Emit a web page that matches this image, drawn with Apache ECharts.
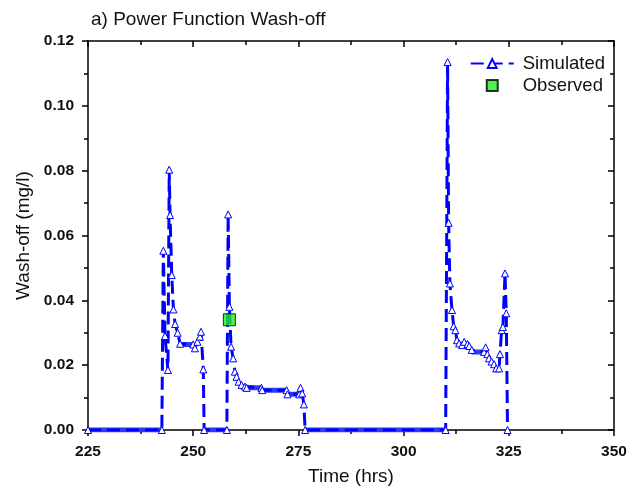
<!DOCTYPE html>
<html>
<head>
<meta charset="utf-8">
<script src="https://cdn.jsdelivr.net/npm/echarts@6/dist/echarts.min.js"></script>
<style>
  html, body { margin: 0; padding: 0; background: #fff; }
  #chart { width: 640px; height: 493px; }
</style>
</head>
<body>
<div id="chart"></div>
<script>
// simulated wash-off, key points (hrs, mg/l)
const simTime = [
  225, 242.55,
  242.9, 243.3, 244.0, 244.3, 244.5, 244.9, 245.3, 245.7, 246.3, 246.9, 250.0,
  250.4, 251.0, 251.6, 251.85, 252.4, 252.6,
  258.0, 258.3, 258.6, 259.0, 259.5, 259.9, 260.3, 260.8, 261.5, 262.3, 262.7,
  266.2, 266.4, 272.2, 272.4, 275.2, 275.5, 275.9, 276.3, 276.6,
  310.0, 310.45, 310.7, 311.0, 311.5, 311.9, 312.3, 312.7, 313.2, 313.9, 314.4,
  315.2, 315.6, 316.2, 319.1, 319.5, 319.9, 320.3, 320.9, 321.5, 322.0, 322.7,
  322.9, 323.3, 323.6, 324.1, 324.4, 324.7
]
const simValue = [
  0, 0,
  0.0553, 0.029, 0.0185, 0.0803, 0.0663, 0.0478, 0.0372, 0.0327, 0.030, 0.0266, 0.0264,
  0.0252, 0.0272, 0.0288, 0.0303, 0.0187, 0,
  0, 0.0665, 0.038, 0.0257, 0.0221, 0.018, 0.0164, 0.0149, 0.0139, 0.0134, 0.013,
  0.013, 0.0123, 0.0123, 0.011, 0.011, 0.013, 0.0113, 0.0079, 0,
  0, 0.1135, 0.0639, 0.0452, 0.037, 0.032, 0.0308, 0.0277, 0.0267, 0.0262, 0.0272,
  0.0265, 0.0259, 0.0247, 0.0241, 0.0255, 0.0234, 0.0221, 0.0211, 0.0203, 0.019, 0.019,
  0.0234, 0.0308, 0.0318, 0.0483, 0.036, 0
]
// flat stretches where the dense time steps pile up: [start, end, value]
const flatRuns = [
  [225, 242.55, 0],
  [246.9, 250.0, 0.0264],
  [252.6, 258.0, 0],
  [262.7, 266.2, 0.013],
  [266.4, 272.2, 0.0123],
  [272.4, 275.2, 0.011],
  [276.6, 310.0, 0],
  [316.2, 319.1, 0.0241]
]
const obsTime = [258.6]
const obsValue = [0.034]

const xTicks = [225, 350, 25]
const yTicks = [0, 0.12, 0.02]

const myChart = echarts.init(document.getElementById('chart'))

const blue = '#0000ff'
const font = 'Liberation Sans, Arial, sans-serif'

const simData = simTime.map((t, i) => [t, simValue[i]])
const obsData = obsTime.map((t, i) => [t, obsValue[i]])

const runSeries = flatRuns.map(r => ({
  name: 'run',
  type: 'line',
  data: [[r[0], r[2]], [r[1], r[2]]],
  symbol: 'none',
  silent: true,
  z: 1,
  lineStyle: { color: '#2a3cf2', width: 5 }
}))

const tickStyle = { color: '#000', width: 1.5 }

const options = {
  animation: false,
  backgroundColor: '#fff',
  title: {
    text: 'a) Power Function Wash-off',
    left: 86,
    top: 5,
    textStyle: { fontFamily: font, fontSize: 19, fontWeight: 'normal', color: '#111' }
  },
  legend: {
    data: ['Simulated', { name: 'Observed', icon: 'path://M0,0L10,0L10,10L0,10Z' }],
    orient: 'vertical',
    right: 30,
    top: 49,
    itemGap: 3,
    itemWidth: 43,
    itemHeight: 11,
    textStyle: { fontFamily: font, fontSize: 18.5, color: '#111', padding: [0, 0, 0, 4] }
  },
  grid: { left: 88, right: 26, top: 41, bottom: 63 },
  xAxis: [{
    type: 'value',
    min: xTicks[0], max: xTicks[1], interval: xTicks[2],
    name: 'Time (hrs)',
    nameLocation: 'middle',
    nameGap: 37,
    nameTextStyle: { fontFamily: font, fontSize: 19, color: '#111' },
    axisLine: { onZero: false, lineStyle: tickStyle },
    axisTick: { show: true, length: 6, inside: false, lineStyle: tickStyle },
    minorTick: { show: true, splitNumber: 2, length: 4, lineStyle: tickStyle },
    axisLabel: { margin: 14, fontFamily: font, fontSize: 15.5, fontWeight: 'bold', color: '#111' },
    splitLine: { show: false }
  }, {
    type: 'value',
    position: 'top',
    min: xTicks[0], max: xTicks[1], interval: xTicks[2],
    axisLine: { onZero: false, lineStyle: tickStyle },
    axisTick: { show: true, inside: true, length: 6, lineStyle: tickStyle },
    minorTick: { show: true, splitNumber: 2, length: 4, lineStyle: tickStyle },
    axisLabel: { show: false },
    splitLine: { show: false }
  }],
  yAxis: [{
    type: 'value',
    min: yTicks[0], max: yTicks[1], interval: yTicks[2],
    name: 'Wash-off (mg/l)',
    nameLocation: 'middle',
    nameGap: 52,
    nameTextStyle: { fontFamily: font, fontSize: 19, color: '#111' },
    axisLine: { show: true, onZero: false, lineStyle: tickStyle },
    axisTick: { show: true, length: 6, inside: false, lineStyle: tickStyle },
    minorTick: { show: true, splitNumber: 2, length: 4, lineStyle: tickStyle },
    axisLabel: {
      margin: 14, fontFamily: font, fontSize: 15.5, fontWeight: 'bold', color: '#111',
      formatter: v => v.toFixed(2)
    },
    splitLine: { show: false }
  }, {
    type: 'value',
    position: 'right',
    min: yTicks[0], max: yTicks[1], interval: yTicks[2],
    axisLine: { show: true, onZero: false, lineStyle: tickStyle },
    axisTick: { show: true, inside: true, length: 6, lineStyle: tickStyle },
    minorTick: { show: true, splitNumber: 2, length: 4, lineStyle: tickStyle },
    axisLabel: { show: false },
    splitLine: { show: false }
  }],
  series: [
    ...runSeries,
    {
      name: 'Simulated',
      type: 'line',
      data: simData,
      z: 3,
      symbol: 'triangle',
      symbolSize: 7,
      showAllSymbol: true,
      itemStyle: { color: '#fff', borderColor: blue, borderWidth: 1 },
      lineStyle: { color: blue, width: 3, type: [13, 6] }
    },
    {
      name: 'Observed',
      type: 'scatter',
      data: obsData,
      z: 4,
      symbol: 'rect',
      symbolSize: 12,
      itemStyle: { color: '#22ee22', borderColor: '#000', borderWidth: 1 }
    }
  ]
}

myChart.setOption(options)
</script>
</body>
</html>
